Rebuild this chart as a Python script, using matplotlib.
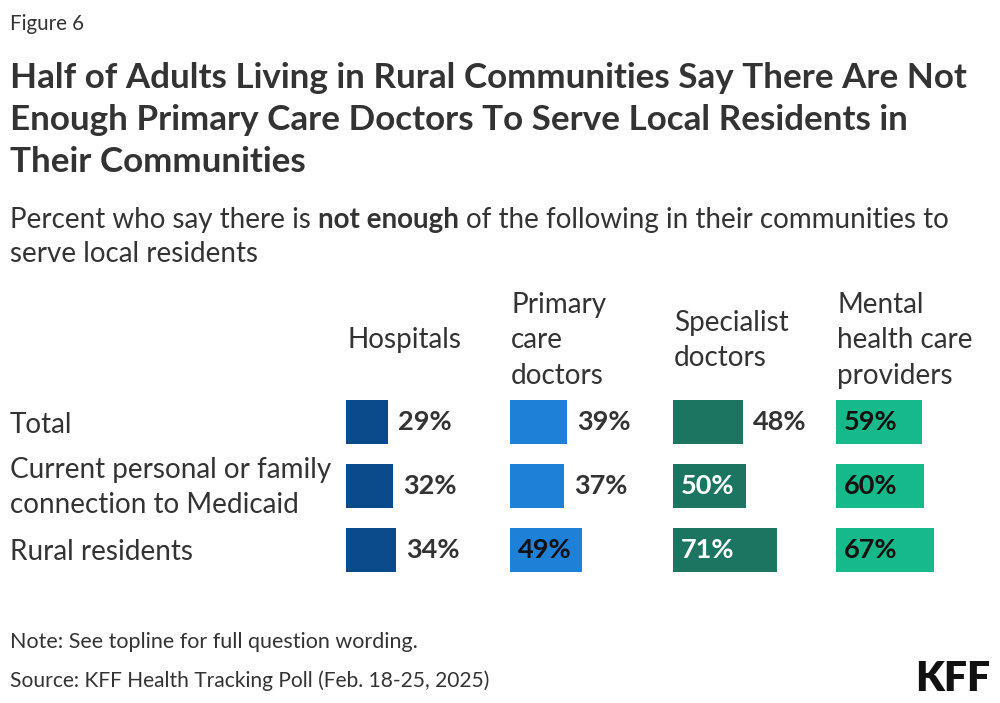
import matplotlib
matplotlib.use("Agg")
import matplotlib.pyplot as plt

# ---------------- data ----------------
categories = ["Hospitals", "Primary\ncare\ndoctors", "Specialist\ndoctors",
              "Mental\nhealth care\nproviders"]
groups = ["Total", "Current personal or family\nconnection to Medicaid", "Rural residents"]
hospitals = [29, 32, 34]
primary_care = [39, 37, 49]
specialist = [48, 50, 71]
mental_health = [59, 60, 67]
series = [hospitals, primary_care, specialist, mental_health]

title_lines = ["Half of Adults Living in Rural Communities Say There Are Not",
               "Enough Primary Care Doctors To Serve Local Residents in",
               "Their Communities"]
note = "Note: See topline for full question wording."
source = "Source: KFF Health Tracking Poll (Feb. 18-25, 2025)"

# ---------------- style ----------------
bar_colors = ["#0b4a8b", "#1f80d8", "#1c7561", "#16b98a"]
inside_text = ["#ffffff", "#111111", "#ffffff", "#111111"]
TXT = "#333333"
FONT = "Lato"
plt.rcParams["font.family"] = [FONT, "DejaVu Sans"]

W, H = 1000, 703
fig = plt.figure(figsize=(W / 100, H / 100), dpi=100)
fig.patch.set_facecolor("white")
fig.canvas.draw()
R = fig.canvas.get_renderer()


def put(text, x, y, size, weight="normal", color=TXT, ha="left", fit=None):
    t = fig.text(x / W, 1 - y / H, text, fontsize=size, fontweight=weight,
                 color=color, ha=ha, va="baseline")
    if fit:
        w = t.get_window_extent(R).width
        size = size * fit / w
        t.set_fontsize(size)
    return t, size


def width_of(text, size, weight="normal"):
    t = fig.text(0, 0, text, fontsize=size, fontweight=weight)
    w = t.get_window_extent(R).width
    t.remove()
    return w


# Figure label
put("Figure 6", 10, 30, 13, fit=74)

# Title
_, tsize = put(title_lines[0], 10, 88, 22, weight="bold", fit=955)
put(title_lines[1], 10, 130, tsize, weight="bold")
put(title_lines[2], 10, 172, tsize, weight="bold")

# Subtitle with bold fragment
sub_a, sub_b, sub_c = "Percent who say there is", "not enough", "of the following in their communities to"
ssize = 17.0
total = (width_of(sub_a, ssize) + width_of(sub_b, ssize, "bold") + width_of(sub_c, ssize)
         + 2 * (width_of("a a", ssize) - width_of("aa", ssize)))
ssize = ssize * 934 / total
sp = width_of("a a", ssize) - width_of("aa", ssize)
x = 10
put(sub_a, x, 228, ssize)
x += width_of(sub_a, ssize) + sp
put(sub_b, x, 228, ssize, weight="bold")
x += width_of(sub_b, ssize, "bold") + sp
put(sub_c, x, 228, ssize)
put("serve local residents", 10, 262, ssize)

# Row labels
_, rsize = put("Current personal or family", 10, 478, 18, fit=320)
put("connection to Medicaid", 10, 513, rsize)
put("Total", 10, 433, rsize)
put("Rural residents", 10, 560, rsize)

# Column headers & bars
col_left = [346, 510, 673, 836]
px_per_pct = 1.465
ax_w = 160
top, bottom = 390, 582
label_size = 19.5
for i, (cat, vals) in enumerate(zip(categories, series)):
    lines = cat.split("\n")
    n = len(lines)
    for j, line in enumerate(lines):
        base = 348.5 + (j - (n - 1) / 2) * 35.5
        put(line, col_left[i] + 1, base, rsize)

    ax = fig.add_axes([col_left[i] / W, 1 - bottom / H, ax_w / W, (bottom - top) / H])
    ax.set_xlim(0, ax_w / px_per_pct)
    ax.set_ylim(len(groups) - 0.5, -0.5)
    ax.axis("off")
    ypos = list(range(len(groups)))
    ax.barh(ypos, vals, height=44 / 64, color=bar_colors[i], left=0)
    for y, v in zip(ypos, vals):
        if v >= 49:
            ax.text(5.5, y, f"{v}%", ha="left", va="center", fontsize=label_size,
                    fontweight="bold", color=inside_text[i])
        else:
            ax.text(v + 6.8, y, f"{v}%", ha="left", va="center", fontsize=label_size,
                    fontweight="bold", color=TXT)

# Footer
_, fsize = put(note, 10, 648, 13, fit=406)
put(source, 10, 687, 13, fit=478)
put("KFF", 990, 691, 30, weight="heavy", color="#111111", ha="right", fit=75)

fig.savefig("out.png", dpi=100, facecolor="white")
